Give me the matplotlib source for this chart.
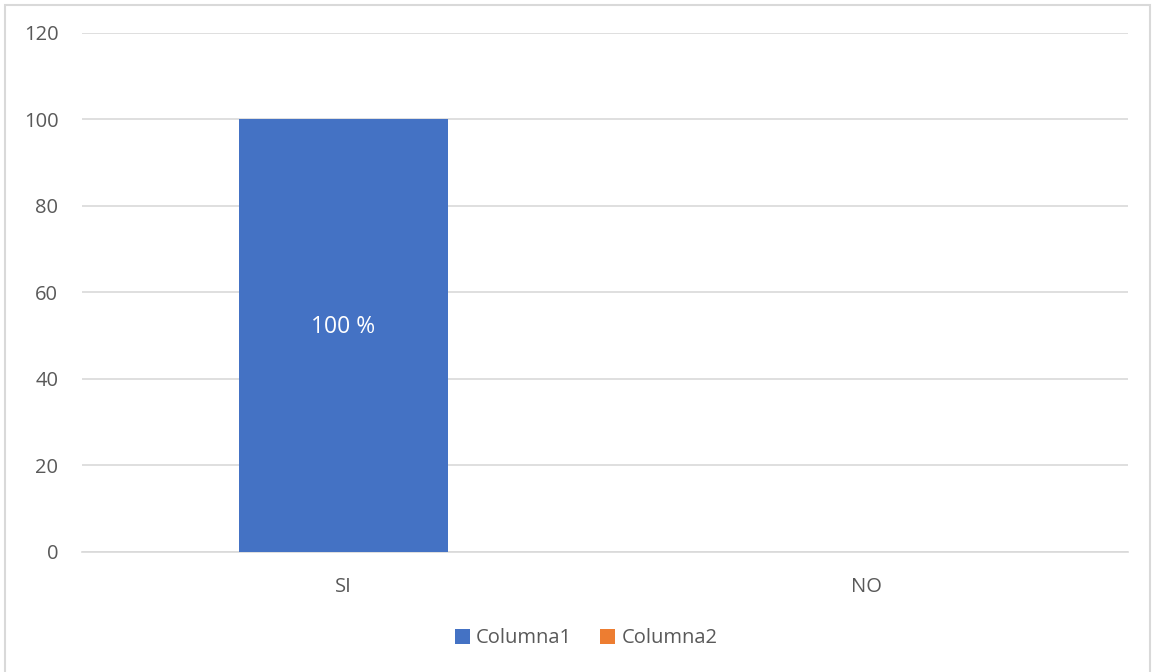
import matplotlib.pyplot as plt
from matplotlib.patches import Rectangle

# Datos
categorias = ['SI', 'NO']
columna1 = [100, 0]
columna2 = [0, 0]
etiquetas = ['100 %', '']

plt.rcParams['font.family'] = ['Open Sans', 'DejaVu Sans']

fig = plt.figure(figsize=(11.53, 6.72), dpi=100)
ax = fig.add_axes([0.0711, 0.1786, 0.9072, 0.7723])

x = range(len(categorias))
ax.bar(x, columna1, width=0.40, color='#4472C4', label='Columna1', zorder=3)
ax.bar(x, columna2, width=0.40, bottom=columna1, color='#ED7D31', label='Columna2', zorder=3)

# Etiqueta dentro de la barra
for xi, v, t in zip(x, columna1, etiquetas):
    if t:
        ax.text(xi, v * 0.52, t, ha='center', va='center', color='white', fontsize=16.5)

ax.set_xlim(-0.5, 1.5)
ax.set_ylim(0, 120)
ax.set_yticks(range(0, 121, 20))
ax.set_xticks(list(x))
ax.set_xticklabels(categorias)
ax.yaxis.grid(True, color='#d9d9d9', linewidth=1.2, zorder=0)
for s in ['top', 'right', 'left']:
    ax.spines[s].set_visible(False)
ax.spines['bottom'].set_color('#d9d9d9')
ax.spines['bottom'].set_linewidth(1.2)
ax.tick_params(length=0, labelsize=14.5, colors='#595959')
ax.tick_params(axis='y', pad=17)
ax.tick_params(axis='x', pad=18)

ax.legend(loc='upper center', bbox_to_anchor=(0.482, -0.112), ncol=2, frameon=False,
          fontsize=14.5, handlelength=0.75, handleheight=0.75, handletextpad=0.3,
          columnspacing=1.4, labelcolor='#595959')

# Borde del gráfico
fig.patches.append(Rectangle((5 / 1153, -0.01), 1145 / 1153, 1 - 5 / 672 + 0.01,
                             transform=fig.transFigure, fill=False,
                             edgecolor='#d9d9d9', linewidth=1.5))

fig.savefig('out.png', dpi=100)
